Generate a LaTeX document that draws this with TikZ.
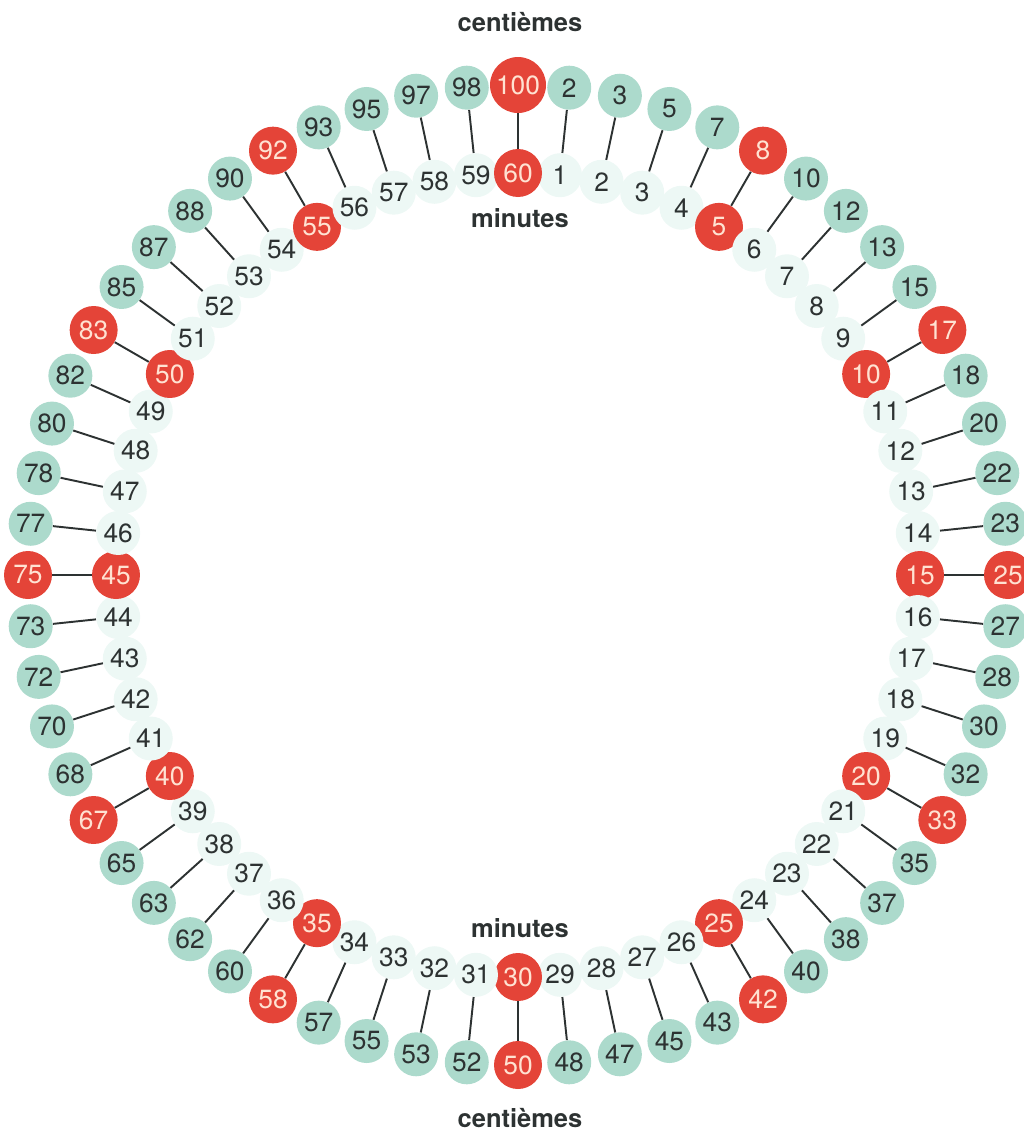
\documentclass[tikz,border=0pt]{standalone}
\usepackage{fontspec}
\setmainfont{TeX Gyre Heros}
\definecolor{dialteal}{RGB}{172,218,204}
\definecolor{dialpale}{RGB}{237,248,245}
\definecolor{dialred}{RGB}{228,68,56}
\definecolor{dialink}{RGB}{45,50,50}
\definecolor{dialpink}{RGB}{255,226,210}
\usetikzlibrary{calc}

\begin{document}
\begin{tikzpicture}[x=0.02cm,y=0.02cm,
  num/.style={circle,inner sep=0pt,minimum size=0.88cm,text=dialink,font=\fontsize{15}{15}\selectfont},
  minute/.style={num,fill=dialpale},
  centieme/.style={num,fill=dialteal},
  fivemark/.style={fill=dialred,text=dialpink,minimum size=0.96cm},
  bigmark/.style={minimum size=1.12cm},
  link/.style={draw=dialink,line width=1.1pt},
  caption/.style={font=\bfseries\fontsize{14.5}{14.5}\selectfont,text=dialink}]
  \useasboundingbox (0,0) rectangle (1024,-1133);
  \coordinate (dial) at (518,-575);
  % Minutes on the inner ring, hundredths on the outer ring
  \foreach \m in {1,...,60}{
    \pgfmathtruncatemacro\cent{round(\m*5/3)}
    \pgfmathtruncatemacro\rest{mod(\m,5)}
    \ifnum\rest=0 \tikzset{dialmark/.style={fivemark}}\else\tikzset{dialmark/.style={}}\fi
    \ifnum\m=60 \tikzset{centmark/.style={fivemark,bigmark}}\else\tikzset{centmark/.style={dialmark}}\fi
    \node[minute,dialmark] (m\m) at ($(dial)+(90-6*\m:402)$) {\m};
    \node[centieme,centmark] (c\m) at ($(dial)+(90-6*\m:490)$) {\cent};
    \draw[link] (m\m) -- (c\m);
  }
  % Ring titles
  \node[caption] (toptitle) at (520,-22) {centièmes};
  \node[caption] (topmin) at (520,-218) {minutes};
  \node[caption] (botmin) at (520,-928) {minutes};
  \node[caption] (bottitle) at (520,-1118) {centièmes};
\end{tikzpicture}
\end{document}
